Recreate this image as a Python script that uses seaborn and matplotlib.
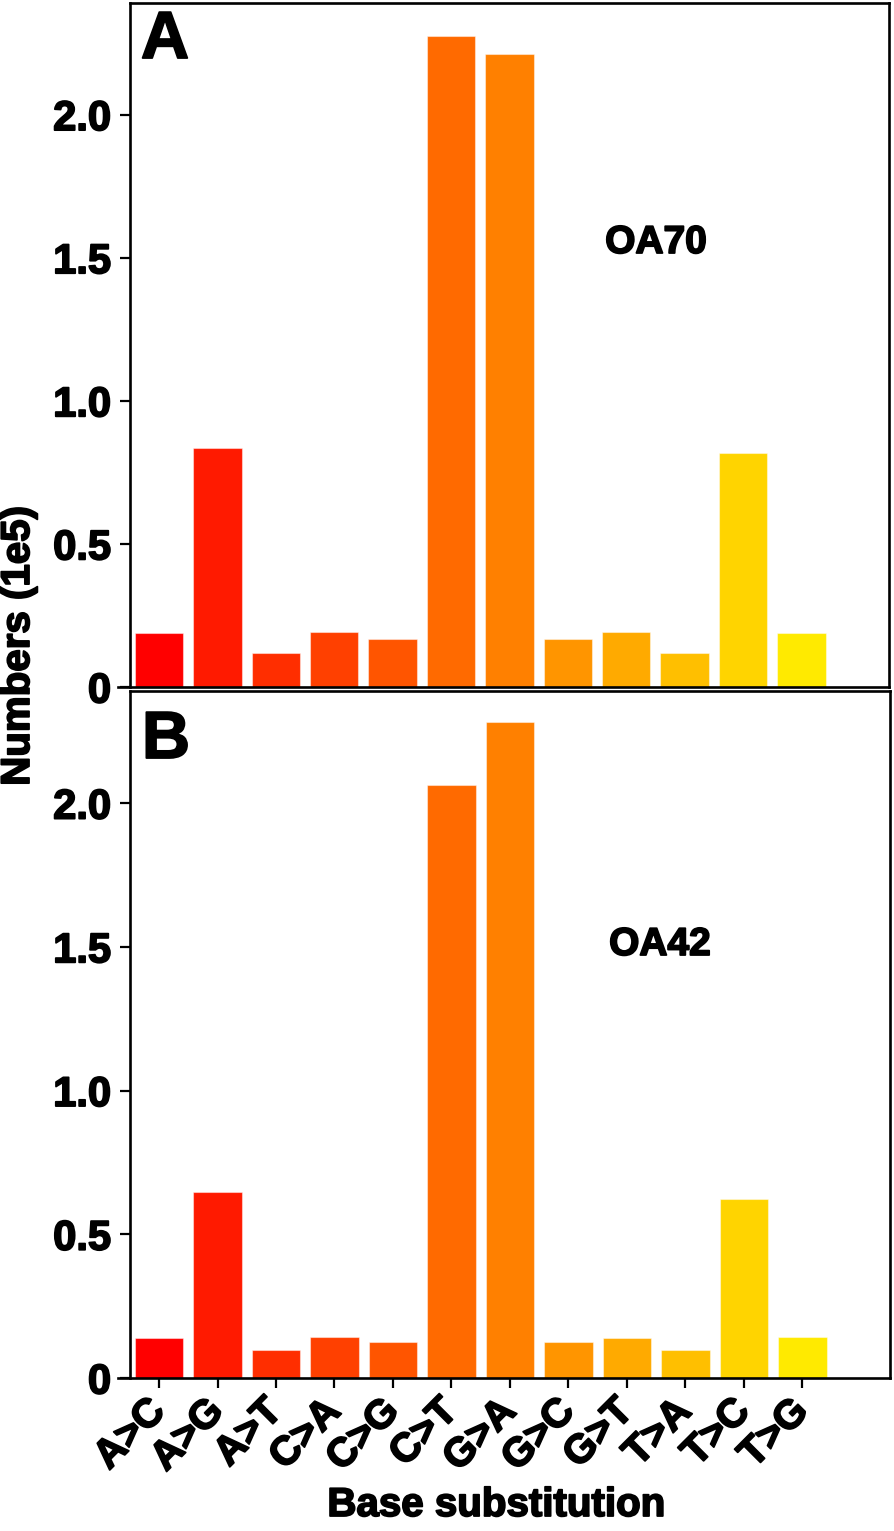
import matplotlib
matplotlib.use('Agg')
import matplotlib.pyplot as plt
import matplotlib.patheffects as pe
import seaborn as sns
import pandas as pd

categories = ["A>C", "A>G", "A>T", "C>A", "C>G", "C>T", "G>A", "G>C", "G>T", "T>A", "T>C", "T>G"]
oa70 = [0.188, 0.834, 0.119, 0.192, 0.167, 2.275, 2.212, 0.167, 0.192, 0.119, 0.816, 0.188]
oa42 = [0.140, 0.646, 0.098, 0.143, 0.126, 2.062, 2.282, 0.126, 0.140, 0.098, 0.621, 0.143]
bar_colors = ["#FF0000", "#FF1A00", "#FF2E00", "#FF4000", "#FF5500", "#FF6A00",
              "#FF8000", "#FF9500", "#FFAA00", "#FFBF00", "#FFD400", "#FFEA00"]
y_ticks = [0, 0.5, 1.0, 1.5, 2.0]
y_tick_labels = ["0", "0.5", "1.0", "1.5", "2.0"]
panel_letters = ["A", "B"]
sample_names = ["OA70", "OA42"]

sns.set_theme(style="white")
plt.rcParams['font.family'] = ['Liberation Sans', 'DejaVu Sans']
plt.rcParams['font.weight'] = 'bold'
for k in ['text.color', 'axes.labelcolor', 'xtick.color', 'ytick.color', 'axes.edgecolor']:
    plt.rcParams[k] = 'black'

W, H = 894, 1531
fig = plt.figure(figsize=(W / 100, H / 100), dpi=100)
heavy = [pe.withStroke(linewidth=1.3, foreground='black')]


def px_axes(left, top, right, bottom):
    return fig.add_axes([left / W, 1 - bottom / H, (right - left) / W, (bottom - top) / H])


axA = px_axes(118, 3, 889, 687)
axB = px_axes(118, 691, 890, 1378)

palette = dict(zip(categories, bar_colors))

for ax, vals, show_x in [(axA, oa70, False), (axB, oa42, True)]:
    df = pd.DataFrame({"cat": categories, "val": vals})
    sns.barplot(data=df, x="cat", y="val", hue="cat", palette=palette, legend=False,
                saturation=1, width=0.83, edgecolor=(1, 1, 1, 0.45), linewidth=0.8, ax=ax)
    ax.set_xlim(-0.702, 12.5)
    ax.set_ylim(0, 2.39)
    for s in ax.spines.values():
        s.set_visible(True)
        s.set_color("black")
        s.set_linewidth(1.9)
    ax.spines['left'].set_position(('data', -0.5))
    ax.spines['top'].set_bounds(-0.5, 12.5)
    ax.set_yticks(y_ticks)
    ax.set_yticklabels(y_tick_labels, fontsize=30, fontweight='bold')
    ax.tick_params(axis='y', direction='out', length=7.5, width=1.6, pad=6, left=True, colors='black')
    for t in ax.get_yticklabels():
        t.set_path_effects(heavy)
    ax.set_xlabel("")
    ax.set_ylabel("")
    if show_x:
        ax.set_xticks(range(len(categories)))
        ax.set_xticklabels(categories, fontsize=29, fontweight='bold', rotation=45,
                           ha='right', rotation_mode='anchor', va='center')
        ax.tick_params(axis='x', direction='out', length=7.5, width=1.6, pad=12, bottom=True, colors='black')
        for t in ax.get_xticklabels():
            t.set_path_effects(heavy)
    else:
        ax.set_xticks([])
    ax.grid(False)

texts = [
    (165, 41, panel_letters[0], 48, 0),
    (166, 741, panel_letters[1], 48, 0),
    (656, 243, sample_names[0], 28, 0),
    (660, 945, sample_names[1], 28, 0),
    (18, 646, "Numbers (1e5)", 29, 90),
    (496, 1505, "Base substitution", 29, 0),
]
for x, y, s, fs, rot in texts:
    fig.text(x / W, 1 - y / H, s, fontsize=fs, fontweight='bold', ha='center', va='center',
             rotation=rot, color='black', path_effects=heavy)

fig.savefig("out.png", dpi=100)
